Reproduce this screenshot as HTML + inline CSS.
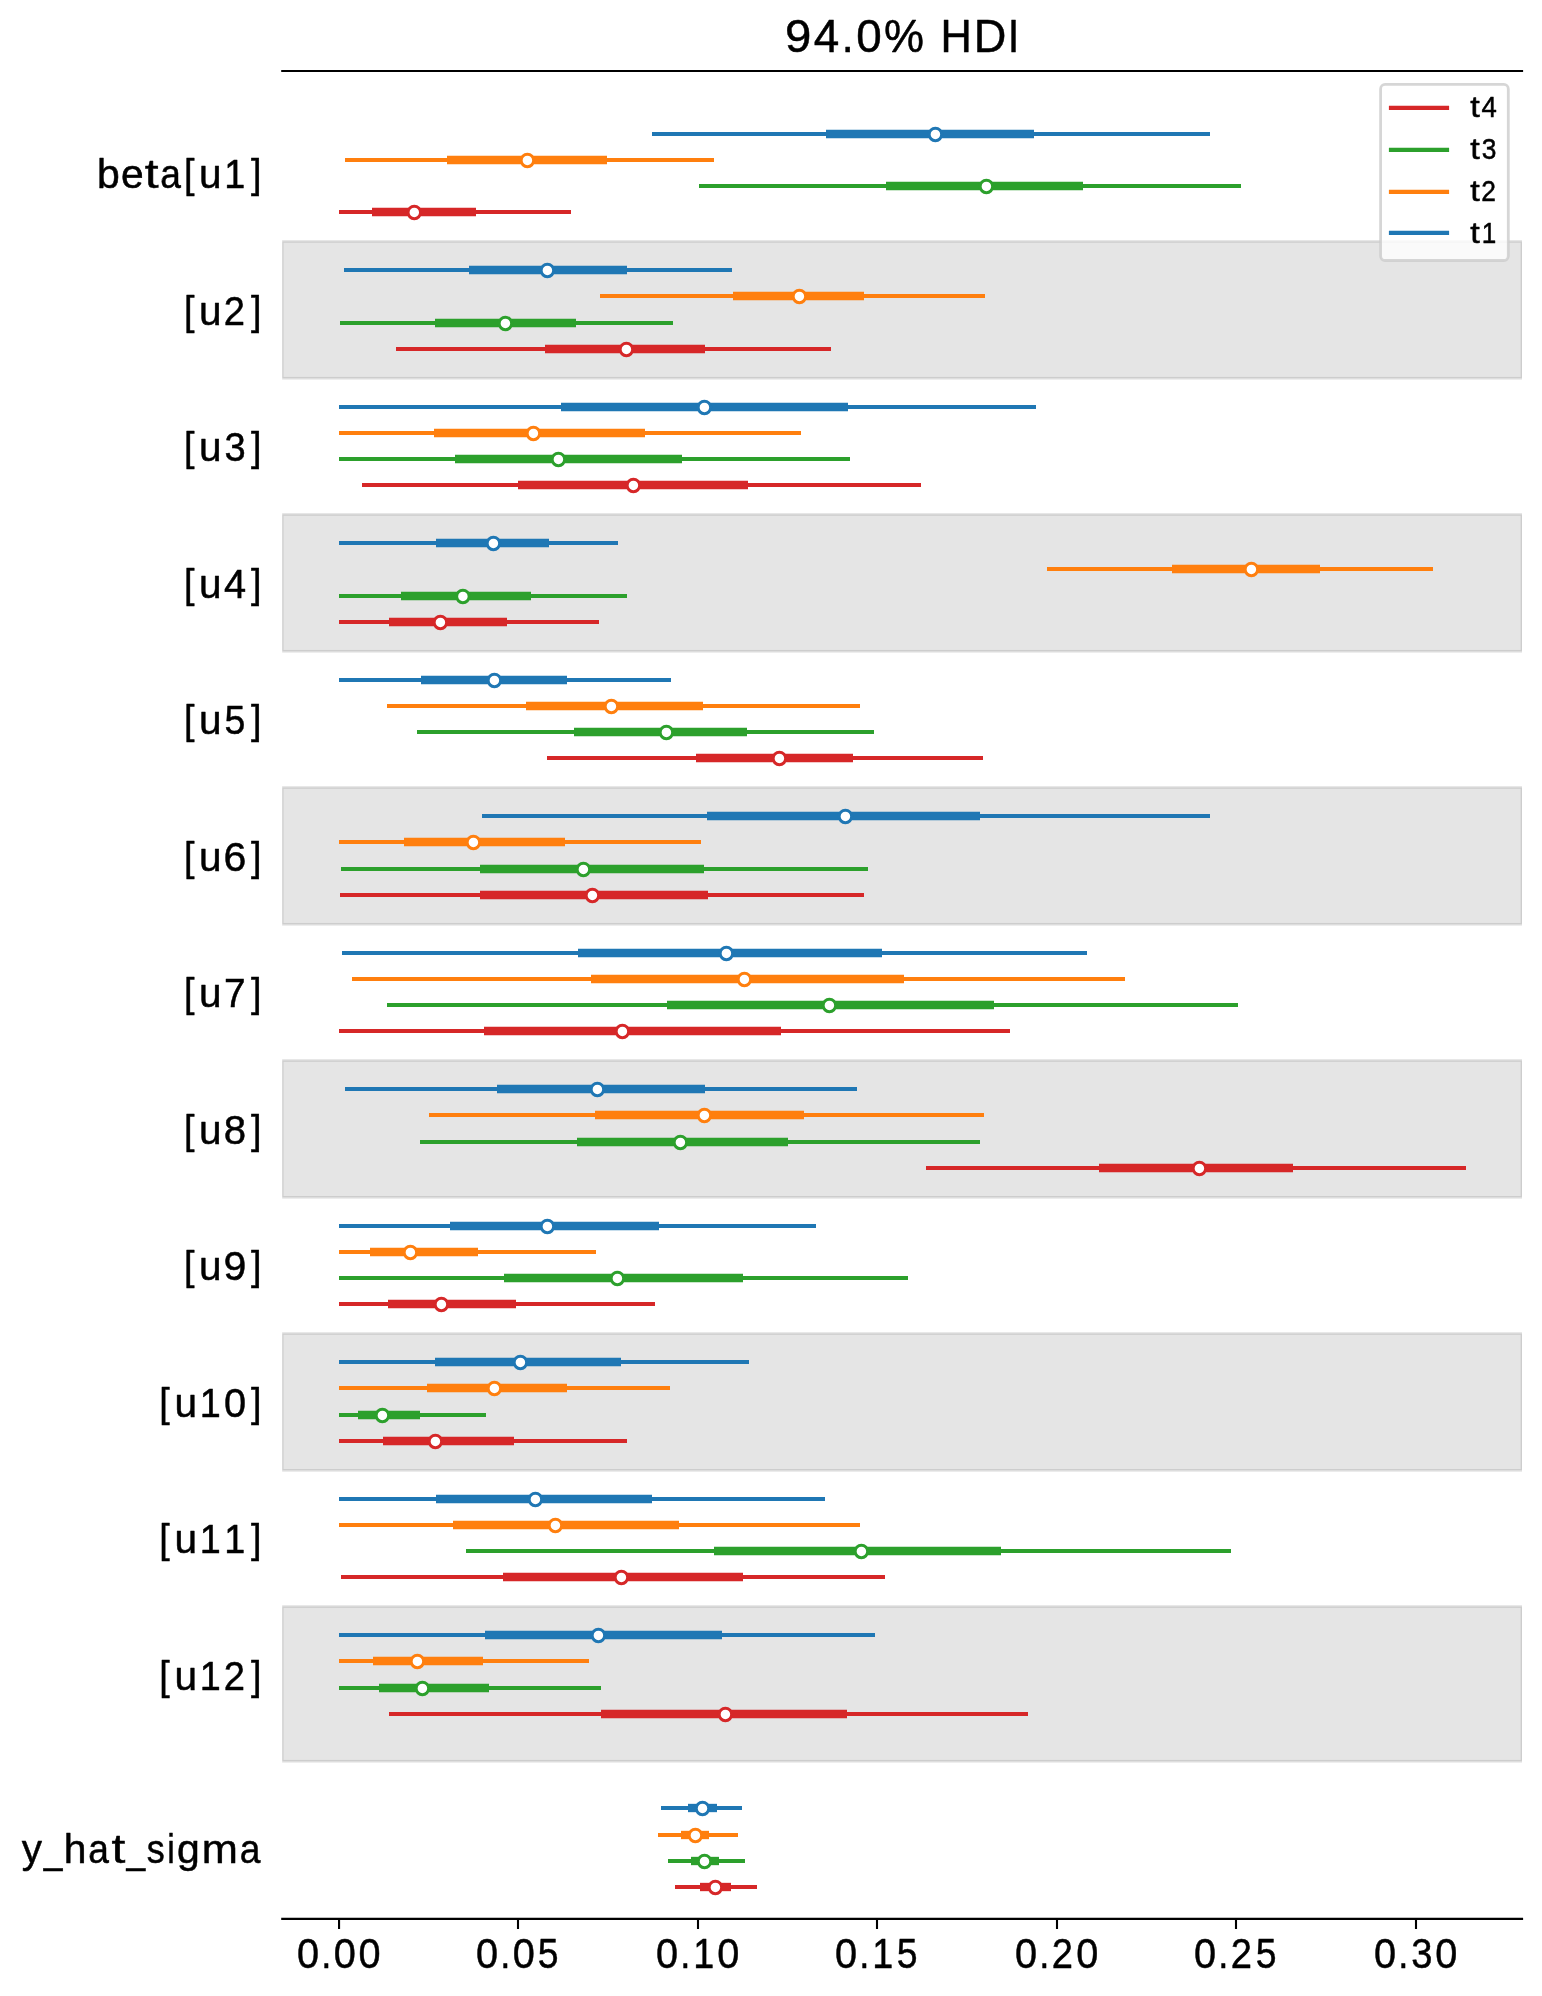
<!DOCTYPE html>
<html><head><meta charset="utf-8"><title>94.0% HDI</title>
<style>html,body{margin:0;padding:0;background:#fff}body{width:1542px;height:1996px;overflow:hidden}svg{display:block}text{font-family:"Liberation Sans",sans-serif;fill:#000;stroke:#000;stroke-width:0.5px;stroke-linejoin:round}</style>
</head><body>
<svg width="1542" height="1996" viewBox="0 0 1542 1996">
<rect width="1542" height="1996" fill="#fff"/>
<defs><filter id="gs" x="0" y="0" width="1542" height="1996" filterUnits="userSpaceOnUse" color-interpolation-filters="sRGB"><feOffset dx="0" dy="0"/></filter><clipPath id="ax"><rect x="282.15" y="60" width="1239.85" height="1870"/></clipPath></defs>
<g clip-path="url(#ax)">
<rect x="282.15" y="241.40" width="1239.85" height="136.90" fill="#000" fill-opacity="0.1" stroke="#000" stroke-opacity="0.1" stroke-width="2.78"/>
<rect x="282.15" y="514.42" width="1239.85" height="136.90" fill="#000" fill-opacity="0.1" stroke="#000" stroke-opacity="0.1" stroke-width="2.78"/>
<rect x="282.15" y="787.44" width="1239.85" height="136.90" fill="#000" fill-opacity="0.1" stroke="#000" stroke-opacity="0.1" stroke-width="2.78"/>
<rect x="282.15" y="1060.46" width="1239.85" height="136.90" fill="#000" fill-opacity="0.1" stroke="#000" stroke-opacity="0.1" stroke-width="2.78"/>
<rect x="282.15" y="1333.48" width="1239.85" height="136.90" fill="#000" fill-opacity="0.1" stroke="#000" stroke-opacity="0.1" stroke-width="2.78"/>
<rect x="282.15" y="1606.50" width="1239.85" height="154.80" fill="#000" fill-opacity="0.1" stroke="#000" stroke-opacity="0.1" stroke-width="2.78"/>
</g>
<line x1="281.2" x2="1523.1" y1="71" y2="71" stroke="#000" stroke-width="2.2"/>
<line x1="281.2" x2="1523.1" y1="1918.9" y2="1918.9" stroke="#000" stroke-width="2.2"/>
<line x1="339.05" x2="339.05" y1="1918.9" y2="1929" stroke="#000" stroke-width="2.1"/>
<line x1="518.0" x2="518.0" y1="1918.9" y2="1929" stroke="#000" stroke-width="2.1"/>
<line x1="698.0" x2="698.0" y1="1918.9" y2="1929" stroke="#000" stroke-width="2.1"/>
<line x1="877.0" x2="877.0" y1="1918.9" y2="1929" stroke="#000" stroke-width="2.1"/>
<line x1="1057.0" x2="1057.0" y1="1918.9" y2="1929" stroke="#000" stroke-width="2.1"/>
<line x1="1236.0" x2="1236.0" y1="1918.9" y2="1929" stroke="#000" stroke-width="2.1"/>
<line x1="1416.0" x2="1416.0" y1="1918.9" y2="1929" stroke="#000" stroke-width="2.1"/>
<line x1="652" x2="1210" y1="134" y2="134" stroke="#1f77b4" stroke-width="4.17"/>
<line x1="826" x2="1034" y1="134" y2="134" stroke="#1f77b4" stroke-width="8.33"/>
<circle cx="935.4" cy="134.4" r="6.25" fill="#fff" stroke="#1f77b4" stroke-width="3"/>
<line x1="345" x2="714" y1="160" y2="160" stroke="#ff7f0e" stroke-width="4.17"/>
<line x1="447" x2="607" y1="160" y2="160" stroke="#ff7f0e" stroke-width="8.33"/>
<circle cx="527.4" cy="160.4" r="6.25" fill="#fff" stroke="#ff7f0e" stroke-width="3"/>
<line x1="699" x2="1241" y1="186" y2="186" stroke="#2ca02c" stroke-width="4.17"/>
<line x1="886" x2="1083" y1="186" y2="186" stroke="#2ca02c" stroke-width="8.33"/>
<circle cx="986.4" cy="186.4" r="6.25" fill="#fff" stroke="#2ca02c" stroke-width="3"/>
<line x1="339" x2="571" y1="212" y2="212" stroke="#d62728" stroke-width="4.17"/>
<line x1="372" x2="476" y1="212" y2="212" stroke="#d62728" stroke-width="8.33"/>
<circle cx="414.3" cy="212.4" r="6.25" fill="#fff" stroke="#d62728" stroke-width="3"/>
<line x1="344" x2="732" y1="270" y2="270" stroke="#1f77b4" stroke-width="4.17"/>
<line x1="469" x2="627" y1="270" y2="270" stroke="#1f77b4" stroke-width="8.33"/>
<circle cx="547.4" cy="270.4" r="6.25" fill="#fff" stroke="#1f77b4" stroke-width="3"/>
<line x1="600" x2="985" y1="296" y2="296" stroke="#ff7f0e" stroke-width="4.17"/>
<line x1="733" x2="864" y1="296" y2="296" stroke="#ff7f0e" stroke-width="8.33"/>
<circle cx="799.4" cy="296.4" r="6.25" fill="#fff" stroke="#ff7f0e" stroke-width="3"/>
<line x1="340" x2="673" y1="323" y2="323" stroke="#2ca02c" stroke-width="4.17"/>
<line x1="435" x2="576" y1="323" y2="323" stroke="#2ca02c" stroke-width="8.33"/>
<circle cx="505.4" cy="323.4" r="6.25" fill="#fff" stroke="#2ca02c" stroke-width="3"/>
<line x1="396" x2="831" y1="349" y2="349" stroke="#d62728" stroke-width="4.17"/>
<line x1="545" x2="705" y1="349" y2="349" stroke="#d62728" stroke-width="8.33"/>
<circle cx="626.4" cy="349.4" r="6.25" fill="#fff" stroke="#d62728" stroke-width="3"/>
<line x1="339" x2="1036" y1="407" y2="407" stroke="#1f77b4" stroke-width="4.17"/>
<line x1="561" x2="848" y1="407" y2="407" stroke="#1f77b4" stroke-width="8.33"/>
<circle cx="704.4" cy="407.4" r="6.25" fill="#fff" stroke="#1f77b4" stroke-width="3"/>
<line x1="339" x2="801" y1="433" y2="433" stroke="#ff7f0e" stroke-width="4.17"/>
<line x1="434" x2="645" y1="433" y2="433" stroke="#ff7f0e" stroke-width="8.33"/>
<circle cx="533.4" cy="433.4" r="6.25" fill="#fff" stroke="#ff7f0e" stroke-width="3"/>
<line x1="339" x2="850" y1="459" y2="459" stroke="#2ca02c" stroke-width="4.17"/>
<line x1="455" x2="682" y1="459" y2="459" stroke="#2ca02c" stroke-width="8.33"/>
<circle cx="558.4" cy="459.4" r="6.25" fill="#fff" stroke="#2ca02c" stroke-width="3"/>
<line x1="362" x2="921" y1="485" y2="485" stroke="#d62728" stroke-width="4.17"/>
<line x1="518" x2="748" y1="485" y2="485" stroke="#d62728" stroke-width="8.33"/>
<circle cx="633.4" cy="485.4" r="6.25" fill="#fff" stroke="#d62728" stroke-width="3"/>
<line x1="339" x2="618" y1="543" y2="543" stroke="#1f77b4" stroke-width="4.17"/>
<line x1="436" x2="549" y1="543" y2="543" stroke="#1f77b4" stroke-width="8.33"/>
<circle cx="493.4" cy="543.4" r="6.25" fill="#fff" stroke="#1f77b4" stroke-width="3"/>
<line x1="1047" x2="1433" y1="569" y2="569" stroke="#ff7f0e" stroke-width="4.17"/>
<line x1="1172" x2="1320" y1="569" y2="569" stroke="#ff7f0e" stroke-width="8.33"/>
<circle cx="1251.4" cy="569.4" r="6.25" fill="#fff" stroke="#ff7f0e" stroke-width="3"/>
<line x1="339" x2="627" y1="596" y2="596" stroke="#2ca02c" stroke-width="4.17"/>
<line x1="401" x2="531" y1="596" y2="596" stroke="#2ca02c" stroke-width="8.33"/>
<circle cx="462.9" cy="596.4" r="6.25" fill="#fff" stroke="#2ca02c" stroke-width="3"/>
<line x1="339" x2="599" y1="622" y2="622" stroke="#d62728" stroke-width="4.17"/>
<line x1="389" x2="507" y1="622" y2="622" stroke="#d62728" stroke-width="8.33"/>
<circle cx="440.4" cy="622.4" r="6.25" fill="#fff" stroke="#d62728" stroke-width="3"/>
<line x1="339" x2="671" y1="680" y2="680" stroke="#1f77b4" stroke-width="4.17"/>
<line x1="421" x2="567" y1="680" y2="680" stroke="#1f77b4" stroke-width="8.33"/>
<circle cx="494.4" cy="680.4" r="6.25" fill="#fff" stroke="#1f77b4" stroke-width="3"/>
<line x1="387" x2="860" y1="706" y2="706" stroke="#ff7f0e" stroke-width="4.17"/>
<line x1="526" x2="703" y1="706" y2="706" stroke="#ff7f0e" stroke-width="8.33"/>
<circle cx="611.4" cy="706.4" r="6.25" fill="#fff" stroke="#ff7f0e" stroke-width="3"/>
<line x1="417" x2="874" y1="732" y2="732" stroke="#2ca02c" stroke-width="4.17"/>
<line x1="574" x2="747" y1="732" y2="732" stroke="#2ca02c" stroke-width="8.33"/>
<circle cx="666.4" cy="732.4" r="6.25" fill="#fff" stroke="#2ca02c" stroke-width="3"/>
<line x1="547" x2="983" y1="758" y2="758" stroke="#d62728" stroke-width="4.17"/>
<line x1="696" x2="853" y1="758" y2="758" stroke="#d62728" stroke-width="8.33"/>
<circle cx="779.4" cy="758.4" r="6.25" fill="#fff" stroke="#d62728" stroke-width="3"/>
<line x1="482" x2="1210" y1="816" y2="816" stroke="#1f77b4" stroke-width="4.17"/>
<line x1="707" x2="980" y1="816" y2="816" stroke="#1f77b4" stroke-width="8.33"/>
<circle cx="845.4" cy="816.4" r="6.25" fill="#fff" stroke="#1f77b4" stroke-width="3"/>
<line x1="339" x2="701" y1="842" y2="842" stroke="#ff7f0e" stroke-width="4.17"/>
<line x1="404" x2="565" y1="842" y2="842" stroke="#ff7f0e" stroke-width="8.33"/>
<circle cx="473.4" cy="842.4" r="6.25" fill="#fff" stroke="#ff7f0e" stroke-width="3"/>
<line x1="341" x2="868" y1="869" y2="869" stroke="#2ca02c" stroke-width="4.17"/>
<line x1="480" x2="704" y1="869" y2="869" stroke="#2ca02c" stroke-width="8.33"/>
<circle cx="583.4" cy="869.4" r="6.25" fill="#fff" stroke="#2ca02c" stroke-width="3"/>
<line x1="340" x2="864" y1="895" y2="895" stroke="#d62728" stroke-width="4.17"/>
<line x1="480" x2="708" y1="895" y2="895" stroke="#d62728" stroke-width="8.33"/>
<circle cx="592.4" cy="895.4" r="6.25" fill="#fff" stroke="#d62728" stroke-width="3"/>
<line x1="342" x2="1087" y1="953" y2="953" stroke="#1f77b4" stroke-width="4.17"/>
<line x1="578" x2="882" y1="953" y2="953" stroke="#1f77b4" stroke-width="8.33"/>
<circle cx="726.4" cy="953.4" r="6.25" fill="#fff" stroke="#1f77b4" stroke-width="3"/>
<line x1="352" x2="1125" y1="979" y2="979" stroke="#ff7f0e" stroke-width="4.17"/>
<line x1="591" x2="904" y1="979" y2="979" stroke="#ff7f0e" stroke-width="8.33"/>
<circle cx="744.4" cy="979.4" r="6.25" fill="#fff" stroke="#ff7f0e" stroke-width="3"/>
<line x1="387" x2="1238" y1="1005" y2="1005" stroke="#2ca02c" stroke-width="4.17"/>
<line x1="667" x2="994" y1="1005" y2="1005" stroke="#2ca02c" stroke-width="8.33"/>
<circle cx="829.4" cy="1005.4" r="6.25" fill="#fff" stroke="#2ca02c" stroke-width="3"/>
<line x1="339" x2="1010" y1="1031" y2="1031" stroke="#d62728" stroke-width="4.17"/>
<line x1="484" x2="781" y1="1031" y2="1031" stroke="#d62728" stroke-width="8.33"/>
<circle cx="622.4" cy="1031.4" r="6.25" fill="#fff" stroke="#d62728" stroke-width="3"/>
<line x1="345" x2="857" y1="1089" y2="1089" stroke="#1f77b4" stroke-width="4.17"/>
<line x1="497" x2="705" y1="1089" y2="1089" stroke="#1f77b4" stroke-width="8.33"/>
<circle cx="597.4" cy="1089.4" r="6.25" fill="#fff" stroke="#1f77b4" stroke-width="3"/>
<line x1="429" x2="984" y1="1115" y2="1115" stroke="#ff7f0e" stroke-width="4.17"/>
<line x1="595" x2="804" y1="1115" y2="1115" stroke="#ff7f0e" stroke-width="8.33"/>
<circle cx="704.4" cy="1115.4" r="6.25" fill="#fff" stroke="#ff7f0e" stroke-width="3"/>
<line x1="420" x2="980" y1="1142" y2="1142" stroke="#2ca02c" stroke-width="4.17"/>
<line x1="577" x2="788" y1="1142" y2="1142" stroke="#2ca02c" stroke-width="8.33"/>
<circle cx="680.4" cy="1142.4" r="6.25" fill="#fff" stroke="#2ca02c" stroke-width="3"/>
<line x1="926" x2="1466" y1="1168" y2="1168" stroke="#d62728" stroke-width="4.17"/>
<line x1="1099" x2="1293" y1="1168" y2="1168" stroke="#d62728" stroke-width="8.33"/>
<circle cx="1199.4" cy="1168.4" r="6.25" fill="#fff" stroke="#d62728" stroke-width="3"/>
<line x1="339" x2="816" y1="1226" y2="1226" stroke="#1f77b4" stroke-width="4.17"/>
<line x1="450" x2="659" y1="1226" y2="1226" stroke="#1f77b4" stroke-width="8.33"/>
<circle cx="547.4" cy="1226.4" r="6.25" fill="#fff" stroke="#1f77b4" stroke-width="3"/>
<line x1="339" x2="596" y1="1252" y2="1252" stroke="#ff7f0e" stroke-width="4.17"/>
<line x1="370" x2="478" y1="1252" y2="1252" stroke="#ff7f0e" stroke-width="8.33"/>
<circle cx="410.4" cy="1252.4" r="6.25" fill="#fff" stroke="#ff7f0e" stroke-width="3"/>
<line x1="339" x2="908" y1="1278" y2="1278" stroke="#2ca02c" stroke-width="4.17"/>
<line x1="504" x2="743" y1="1278" y2="1278" stroke="#2ca02c" stroke-width="8.33"/>
<circle cx="617.4" cy="1278.4" r="6.25" fill="#fff" stroke="#2ca02c" stroke-width="3"/>
<line x1="339" x2="655" y1="1304" y2="1304" stroke="#d62728" stroke-width="4.17"/>
<line x1="388" x2="516" y1="1304" y2="1304" stroke="#d62728" stroke-width="8.33"/>
<circle cx="441.4" cy="1304.4" r="6.25" fill="#fff" stroke="#d62728" stroke-width="3"/>
<line x1="339" x2="749" y1="1362" y2="1362" stroke="#1f77b4" stroke-width="4.17"/>
<line x1="435" x2="621" y1="1362" y2="1362" stroke="#1f77b4" stroke-width="8.33"/>
<circle cx="520.4" cy="1362.4" r="6.25" fill="#fff" stroke="#1f77b4" stroke-width="3"/>
<line x1="339" x2="670" y1="1388" y2="1388" stroke="#ff7f0e" stroke-width="4.17"/>
<line x1="427" x2="567" y1="1388" y2="1388" stroke="#ff7f0e" stroke-width="8.33"/>
<circle cx="494.4" cy="1388.4" r="6.25" fill="#fff" stroke="#ff7f0e" stroke-width="3"/>
<line x1="339" x2="486" y1="1415" y2="1415" stroke="#2ca02c" stroke-width="4.17"/>
<line x1="358" x2="420" y1="1415" y2="1415" stroke="#2ca02c" stroke-width="8.33"/>
<circle cx="382.4" cy="1415.4" r="6.25" fill="#fff" stroke="#2ca02c" stroke-width="3"/>
<line x1="339" x2="627" y1="1441" y2="1441" stroke="#d62728" stroke-width="4.17"/>
<line x1="383" x2="514" y1="1441" y2="1441" stroke="#d62728" stroke-width="8.33"/>
<circle cx="435.4" cy="1441.4" r="6.25" fill="#fff" stroke="#d62728" stroke-width="3"/>
<line x1="339" x2="825" y1="1499" y2="1499" stroke="#1f77b4" stroke-width="4.17"/>
<line x1="436" x2="652" y1="1499" y2="1499" stroke="#1f77b4" stroke-width="8.33"/>
<circle cx="535.4" cy="1499.4" r="6.25" fill="#fff" stroke="#1f77b4" stroke-width="3"/>
<line x1="339" x2="860" y1="1525" y2="1525" stroke="#ff7f0e" stroke-width="4.17"/>
<line x1="453" x2="679" y1="1525" y2="1525" stroke="#ff7f0e" stroke-width="8.33"/>
<circle cx="555.4" cy="1525.4" r="6.25" fill="#fff" stroke="#ff7f0e" stroke-width="3"/>
<line x1="466" x2="1231" y1="1551" y2="1551" stroke="#2ca02c" stroke-width="4.17"/>
<line x1="714" x2="1001" y1="1551" y2="1551" stroke="#2ca02c" stroke-width="8.33"/>
<circle cx="861.4" cy="1551.4" r="6.25" fill="#fff" stroke="#2ca02c" stroke-width="3"/>
<line x1="341" x2="885" y1="1577" y2="1577" stroke="#d62728" stroke-width="4.17"/>
<line x1="503" x2="743" y1="1577" y2="1577" stroke="#d62728" stroke-width="8.33"/>
<circle cx="621.4" cy="1577.4" r="6.25" fill="#fff" stroke="#d62728" stroke-width="3"/>
<line x1="339" x2="875" y1="1635" y2="1635" stroke="#1f77b4" stroke-width="4.17"/>
<line x1="485" x2="722" y1="1635" y2="1635" stroke="#1f77b4" stroke-width="8.33"/>
<circle cx="598.4" cy="1635.4" r="6.25" fill="#fff" stroke="#1f77b4" stroke-width="3"/>
<line x1="339" x2="589" y1="1661" y2="1661" stroke="#ff7f0e" stroke-width="4.17"/>
<line x1="373" x2="483" y1="1661" y2="1661" stroke="#ff7f0e" stroke-width="8.33"/>
<circle cx="417.4" cy="1661.4" r="6.25" fill="#fff" stroke="#ff7f0e" stroke-width="3"/>
<line x1="339" x2="601" y1="1688" y2="1688" stroke="#2ca02c" stroke-width="4.17"/>
<line x1="379" x2="489" y1="1688" y2="1688" stroke="#2ca02c" stroke-width="8.33"/>
<circle cx="422.4" cy="1688.4" r="6.25" fill="#fff" stroke="#2ca02c" stroke-width="3"/>
<line x1="389" x2="1028" y1="1714" y2="1714" stroke="#d62728" stroke-width="4.17"/>
<line x1="601" x2="847" y1="1714" y2="1714" stroke="#d62728" stroke-width="8.33"/>
<circle cx="725.4" cy="1714.4" r="6.25" fill="#fff" stroke="#d62728" stroke-width="3"/>
<line x1="661" x2="742" y1="1808" y2="1808" stroke="#1f77b4" stroke-width="4.17"/>
<line x1="688" x2="717" y1="1808" y2="1808" stroke="#1f77b4" stroke-width="8.33"/>
<circle cx="702.5" cy="1808.4" r="6.25" fill="#fff" stroke="#1f77b4" stroke-width="3"/>
<line x1="658" x2="738" y1="1835" y2="1835" stroke="#ff7f0e" stroke-width="4.17"/>
<line x1="681" x2="709" y1="1835" y2="1835" stroke="#ff7f0e" stroke-width="8.33"/>
<circle cx="695.4" cy="1835.4" r="6.25" fill="#fff" stroke="#ff7f0e" stroke-width="3"/>
<line x1="668" x2="745" y1="1861" y2="1861" stroke="#2ca02c" stroke-width="4.17"/>
<line x1="691" x2="719" y1="1861" y2="1861" stroke="#2ca02c" stroke-width="8.33"/>
<circle cx="704.5" cy="1861.4" r="6.25" fill="#fff" stroke="#2ca02c" stroke-width="3"/>
<line x1="675" x2="757" y1="1887" y2="1887" stroke="#d62728" stroke-width="4.17"/>
<line x1="700" x2="731" y1="1887" y2="1887" stroke="#d62728" stroke-width="8.33"/>
<circle cx="715.4" cy="1887.4" r="6.25" fill="#fff" stroke="#d62728" stroke-width="3"/>
<rect x="1380.6" y="84.4" width="127.7" height="176.1" rx="4.5" ry="4.5" fill="#fff" fill-opacity="0.8" stroke="#ccc" stroke-opacity="0.8" stroke-width="2.78"/>
<line x1="1388.9" x2="1449.1" y1="107.9" y2="107.9" stroke="#d62728" stroke-width="4.17"/>
<line x1="1388.9" x2="1449.1" y1="149.9" y2="149.9" stroke="#2ca02c" stroke-width="4.17"/>
<line x1="1388.9" x2="1449.1" y1="191.9" y2="191.9" stroke="#ff7f0e" stroke-width="4.17"/>
<line x1="1388.9" x2="1449.1" y1="232.9" y2="232.9" stroke="#1f77b4" stroke-width="4.17"/>
<g filter="url(#gs)">
<text y="1968.00" font-size="42"><tspan x="297.00" textLength="22.06" lengthAdjust="spacingAndGlyphs">0</tspan><tspan x="321.37" textLength="10.15" lengthAdjust="spacingAndGlyphs">.</tspan><tspan x="333.85" textLength="22.06" lengthAdjust="spacingAndGlyphs">0</tspan><tspan x="358.42" textLength="22.06" lengthAdjust="spacingAndGlyphs">0</tspan></text>
<text y="1968.00" font-size="42"><tspan x="475.95" textLength="22.06" lengthAdjust="spacingAndGlyphs">0</tspan><tspan x="500.32" textLength="10.15" lengthAdjust="spacingAndGlyphs">.</tspan><tspan x="512.80" textLength="22.06" lengthAdjust="spacingAndGlyphs">0</tspan><tspan x="537.86" textLength="20.78" lengthAdjust="spacingAndGlyphs">5</tspan></text>
<text y="1968.00" font-size="42"><tspan x="655.95" textLength="22.06" lengthAdjust="spacingAndGlyphs">0</tspan><tspan x="680.32" textLength="10.15" lengthAdjust="spacingAndGlyphs">.</tspan><tspan x="693.17" textLength="20.98" lengthAdjust="spacingAndGlyphs">1</tspan><tspan x="717.37" textLength="22.06" lengthAdjust="spacingAndGlyphs">0</tspan></text>
<text y="1968.00" font-size="42"><tspan x="834.95" textLength="22.06" lengthAdjust="spacingAndGlyphs">0</tspan><tspan x="859.32" textLength="10.15" lengthAdjust="spacingAndGlyphs">.</tspan><tspan x="872.17" textLength="20.98" lengthAdjust="spacingAndGlyphs">1</tspan><tspan x="896.86" textLength="20.78" lengthAdjust="spacingAndGlyphs">5</tspan></text>
<text y="1968.00" font-size="42"><tspan x="1014.95" textLength="22.06" lengthAdjust="spacingAndGlyphs">0</tspan><tspan x="1039.32" textLength="10.15" lengthAdjust="spacingAndGlyphs">.</tspan><tspan x="1051.71" textLength="21.21" lengthAdjust="spacingAndGlyphs">2</tspan><tspan x="1076.37" textLength="22.06" lengthAdjust="spacingAndGlyphs">0</tspan></text>
<text y="1968.00" font-size="42"><tspan x="1193.95" textLength="22.06" lengthAdjust="spacingAndGlyphs">0</tspan><tspan x="1218.32" textLength="10.15" lengthAdjust="spacingAndGlyphs">.</tspan><tspan x="1230.71" textLength="21.21" lengthAdjust="spacingAndGlyphs">2</tspan><tspan x="1255.86" textLength="20.78" lengthAdjust="spacingAndGlyphs">5</tspan></text>
<text y="1968.00" font-size="42"><tspan x="1373.95" textLength="22.06" lengthAdjust="spacingAndGlyphs">0</tspan><tspan x="1398.32" textLength="10.15" lengthAdjust="spacingAndGlyphs">.</tspan><tspan x="1411.30" textLength="21.16" lengthAdjust="spacingAndGlyphs">3</tspan><tspan x="1435.37" textLength="22.06" lengthAdjust="spacingAndGlyphs">0</tspan></text>
<text y="52.30" font-size="47"><tspan x="784.90" textLength="26.31" lengthAdjust="spacingAndGlyphs">9</tspan><tspan x="813.71" textLength="25.51" lengthAdjust="spacingAndGlyphs">4</tspan><tspan x="841.71" textLength="11.90" lengthAdjust="spacingAndGlyphs">.</tspan><tspan x="856.14" textLength="25.47" lengthAdjust="spacingAndGlyphs">0</tspan><tspan x="884.12" textLength="40.04" lengthAdjust="spacingAndGlyphs">%</tspan><tspan x="925.26"> </tspan><tspan x="940.44" textLength="31.28" lengthAdjust="spacingAndGlyphs">H</tspan><tspan x="973.71" textLength="32.60" lengthAdjust="spacingAndGlyphs">D</tspan><tspan x="1007.79" textLength="11.57" lengthAdjust="spacingAndGlyphs">I</tspan></text>
<text y="188.00" font-size="41"><tspan x="96.94" textLength="22.79" lengthAdjust="spacingAndGlyphs">b</tspan><tspan x="121.03" textLength="22.65" lengthAdjust="spacingAndGlyphs">e</tspan><tspan x="144.72" textLength="13.82" lengthAdjust="spacingAndGlyphs">t</tspan><tspan x="160.35" textLength="20.67" lengthAdjust="spacingAndGlyphs">a</tspan><tspan x="183.95" textLength="10.50" lengthAdjust="spacingAndGlyphs">[</tspan><tspan x="199.07" textLength="22.55" lengthAdjust="spacingAndGlyphs">u</tspan><tspan x="224.31" textLength="21.02" lengthAdjust="spacingAndGlyphs">1</tspan><tspan x="251.02" textLength="10.50" lengthAdjust="spacingAndGlyphs">]</tspan></text>
<text y="325.00" font-size="41"><tspan x="183.95" textLength="10.50" lengthAdjust="spacingAndGlyphs">[</tspan><tspan x="199.07" textLength="22.55" lengthAdjust="spacingAndGlyphs">u</tspan><tspan x="223.85" textLength="21.26" lengthAdjust="spacingAndGlyphs">2</tspan><tspan x="251.02" textLength="10.50" lengthAdjust="spacingAndGlyphs">]</tspan></text>
<text y="461.00" font-size="41"><tspan x="183.95" textLength="10.50" lengthAdjust="spacingAndGlyphs">[</tspan><tspan x="199.07" textLength="22.55" lengthAdjust="spacingAndGlyphs">u</tspan><tspan x="224.43" textLength="21.20" lengthAdjust="spacingAndGlyphs">3</tspan><tspan x="251.02" textLength="10.50" lengthAdjust="spacingAndGlyphs">]</tspan></text>
<text y="598.00" font-size="41"><tspan x="183.95" textLength="10.50" lengthAdjust="spacingAndGlyphs">[</tspan><tspan x="199.07" textLength="22.55" lengthAdjust="spacingAndGlyphs">u</tspan><tspan x="223.91" textLength="22.14" lengthAdjust="spacingAndGlyphs">4</tspan><tspan x="251.02" textLength="10.50" lengthAdjust="spacingAndGlyphs">]</tspan></text>
<text y="734.00" font-size="41"><tspan x="183.95" textLength="10.50" lengthAdjust="spacingAndGlyphs">[</tspan><tspan x="199.07" textLength="22.55" lengthAdjust="spacingAndGlyphs">u</tspan><tspan x="224.42" textLength="20.82" lengthAdjust="spacingAndGlyphs">5</tspan><tspan x="251.02" textLength="10.50" lengthAdjust="spacingAndGlyphs">]</tspan></text>
<text y="871.00" font-size="41"><tspan x="183.95" textLength="10.50" lengthAdjust="spacingAndGlyphs">[</tspan><tspan x="199.07" textLength="22.55" lengthAdjust="spacingAndGlyphs">u</tspan><tspan x="223.55" textLength="22.88" lengthAdjust="spacingAndGlyphs">6</tspan><tspan x="251.02" textLength="10.50" lengthAdjust="spacingAndGlyphs">]</tspan></text>
<text y="1007.00" font-size="41"><tspan x="183.95" textLength="10.50" lengthAdjust="spacingAndGlyphs">[</tspan><tspan x="199.07" textLength="22.55" lengthAdjust="spacingAndGlyphs">u</tspan><tspan x="224.12" textLength="21.58" lengthAdjust="spacingAndGlyphs">7</tspan><tspan x="251.02" textLength="10.50" lengthAdjust="spacingAndGlyphs">]</tspan></text>
<text y="1144.00" font-size="41"><tspan x="183.95" textLength="10.50" lengthAdjust="spacingAndGlyphs">[</tspan><tspan x="199.07" textLength="22.55" lengthAdjust="spacingAndGlyphs">u</tspan><tspan x="223.82" textLength="22.34" lengthAdjust="spacingAndGlyphs">8</tspan><tspan x="251.02" textLength="10.50" lengthAdjust="spacingAndGlyphs">]</tspan></text>
<text y="1280.00" font-size="41"><tspan x="183.95" textLength="10.50" lengthAdjust="spacingAndGlyphs">[</tspan><tspan x="199.07" textLength="22.55" lengthAdjust="spacingAndGlyphs">u</tspan><tspan x="223.45" textLength="22.83" lengthAdjust="spacingAndGlyphs">9</tspan><tspan x="251.02" textLength="10.50" lengthAdjust="spacingAndGlyphs">]</tspan></text>
<text y="1417.00" font-size="41"><tspan x="159.33" textLength="10.50" lengthAdjust="spacingAndGlyphs">[</tspan><tspan x="174.45" textLength="22.55" lengthAdjust="spacingAndGlyphs">u</tspan><tspan x="199.69" textLength="21.02" lengthAdjust="spacingAndGlyphs">1</tspan><tspan x="223.93" textLength="22.10" lengthAdjust="spacingAndGlyphs">0</tspan><tspan x="251.02" textLength="10.50" lengthAdjust="spacingAndGlyphs">]</tspan></text>
<text y="1553.00" font-size="41"><tspan x="159.33" textLength="10.50" lengthAdjust="spacingAndGlyphs">[</tspan><tspan x="174.45" textLength="22.55" lengthAdjust="spacingAndGlyphs">u</tspan><tspan x="199.69" textLength="21.02" lengthAdjust="spacingAndGlyphs">1</tspan><tspan x="224.31" textLength="21.02" lengthAdjust="spacingAndGlyphs">1</tspan><tspan x="251.02" textLength="10.50" lengthAdjust="spacingAndGlyphs">]</tspan></text>
<text y="1690.00" font-size="41"><tspan x="159.33" textLength="10.50" lengthAdjust="spacingAndGlyphs">[</tspan><tspan x="174.45" textLength="22.55" lengthAdjust="spacingAndGlyphs">u</tspan><tspan x="199.69" textLength="21.02" lengthAdjust="spacingAndGlyphs">1</tspan><tspan x="223.85" textLength="21.26" lengthAdjust="spacingAndGlyphs">2</tspan><tspan x="251.02" textLength="10.50" lengthAdjust="spacingAndGlyphs">]</tspan></text>
<text y="1863.00" font-size="41"><tspan x="21.82" textLength="20.27" lengthAdjust="spacingAndGlyphs">y</tspan><tspan x="43.80" textLength="18.72" lengthAdjust="spacingAndGlyphs">_</tspan><tspan x="63.70" textLength="22.70" lengthAdjust="spacingAndGlyphs">h</tspan><tspan x="88.29" textLength="20.67" lengthAdjust="spacingAndGlyphs">a</tspan><tspan x="111.54" textLength="13.82" lengthAdjust="spacingAndGlyphs">t</tspan><tspan x="126.56" textLength="18.72" lengthAdjust="spacingAndGlyphs">_</tspan><tspan x="146.87" textLength="17.97" lengthAdjust="spacingAndGlyphs">s</tspan><tspan x="167.31" textLength="7.52" lengthAdjust="spacingAndGlyphs">i</tspan><tspan x="177.10" textLength="22.77" lengthAdjust="spacingAndGlyphs">g</tspan><tspan x="201.88" textLength="36.13" lengthAdjust="spacingAndGlyphs">m</tspan><tspan x="239.68" textLength="20.67" lengthAdjust="spacingAndGlyphs">a</tspan></text>
<text y="117.00" font-size="29.3"><tspan x="1470.31" textLength="9.51" lengthAdjust="spacingAndGlyphs">t</tspan><tspan x="1481.41" textLength="15.33" lengthAdjust="spacingAndGlyphs">4</tspan></text>
<text y="159.00" font-size="29.3"><tspan x="1470.31" textLength="9.51" lengthAdjust="spacingAndGlyphs">t</tspan><tspan x="1481.78" textLength="14.66" lengthAdjust="spacingAndGlyphs">3</tspan></text>
<text y="201.00" font-size="29.3"><tspan x="1470.31" textLength="9.51" lengthAdjust="spacingAndGlyphs">t</tspan><tspan x="1481.37" textLength="14.69" lengthAdjust="spacingAndGlyphs">2</tspan></text>
<text y="243.00" font-size="29.3"><tspan x="1470.31" textLength="9.51" lengthAdjust="spacingAndGlyphs">t</tspan><tspan x="1481.71" textLength="14.52" lengthAdjust="spacingAndGlyphs">1</tspan></text>
</g>
</svg>
</body></html>
